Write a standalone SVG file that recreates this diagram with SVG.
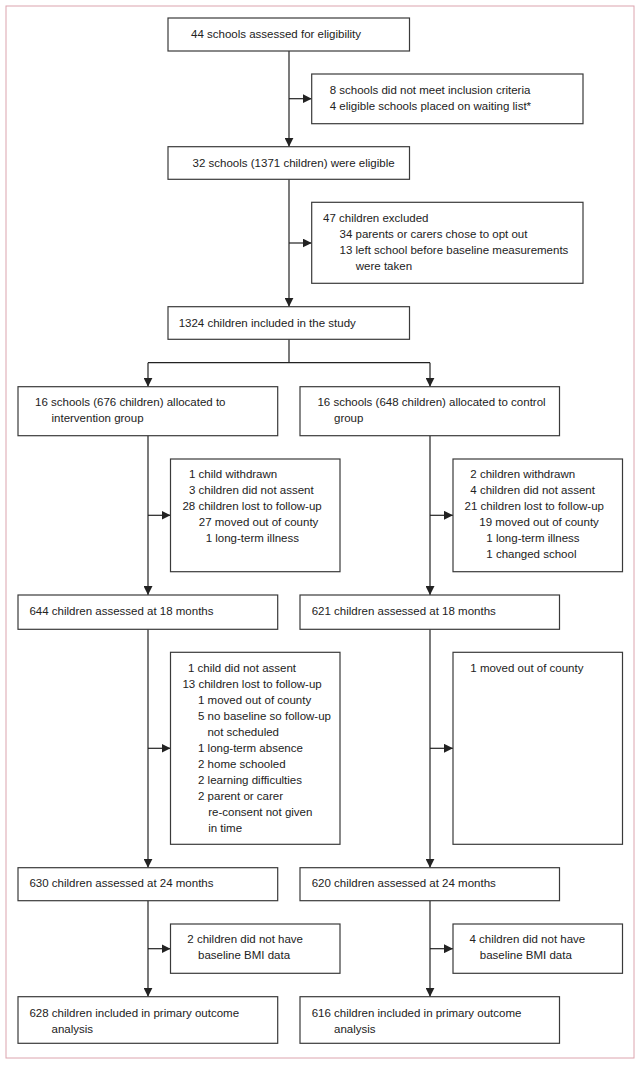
<svg xmlns="http://www.w3.org/2000/svg" width="640" height="1067" viewBox="0 0 640 1067">
<defs>
<marker id="arr" markerUnits="userSpaceOnUse" markerWidth="9" markerHeight="9" refX="9" refY="4.5" orient="auto" viewBox="0 0 9 9">
<path d="M0,0 L9,4.5 L0,9 z" fill="#222"/>
</marker>
</defs>
<style>
.box{fill:#fff;stroke:#3a3a3a;stroke-width:1.2}
.t{font-family:"Liberation Sans",Arial,sans-serif;font-size:11.5px;fill:#222}
.c{fill:none;stroke:#222;stroke-width:1.2}
.a{fill:none;stroke:#222;stroke-width:1.2;marker-end:url(#arr)}
</style>
<rect x="0" y="0" width="640" height="1067" fill="#fff"/>
<rect x="6" y="6" width="628" height="1052" fill="none" stroke="#dca4ae" stroke-width="1"/>

<g id="connectors">
<path class="a" d="M289,51 V146.7"/>
<path class="a" d="M289,98.7 H311.7"/>
<path class="a" d="M289,179.3 V306.7"/>
<path class="a" d="M289,243 H311.7"/>
<path class="c" d="M289,339.3 V362.7 M148,362.7 H430"/>
<path class="a" d="M148,362.7 V386.7"/>
<path class="a" d="M430,362.7 V386.7"/>
<path class="a" d="M148,435.7 V595"/>
<path class="a" d="M148,515.3 H170.5"/>
<path class="a" d="M430,435.7 V595"/>
<path class="a" d="M430,515.3 H453"/>
<path class="a" d="M148,629.3 V867.7"/>
<path class="a" d="M148,748.3 H170.5"/>
<path class="a" d="M430,629.3 V867.7"/>
<path class="a" d="M430,748.3 H453"/>
<path class="a" d="M148,900.7 V996.7"/>
<path class="a" d="M148,948.7 H170.5"/>
<path class="a" d="M430,900.7 V996.7"/>
<path class="a" d="M430,948.7 H453"/>
</g>

<g id="assessed">
<rect class="box" x="168" y="18" width="241.5" height="33"/>
<text class="t" x="191" y="38">44 schools assessed for eligibility</text>
</g>
<g id="excl1">
<rect class="box" x="311.7" y="74" width="271.3" height="49.7"/>
<text class="t" x="329.7" y="93.5">8 schools did not meet inclusion criteria</text>
<text class="t" x="329.7" y="109.5">4 eligible schools placed on waiting list*</text>
</g>
<g id="eligible">
<rect class="box" x="168" y="146.7" width="241.5" height="32.6"/>
<text class="t" x="192.6" y="166.5">32 schools (1371 children) were eligible</text>
</g>
<g id="excl2">
<rect class="box" x="311.7" y="202.3" width="271.3" height="81"/>
<text class="t" x="323" y="222">47 children excluded</text>
<text class="t" x="339.5" y="238">34 parents or carers chose to opt out</text>
<text class="t" x="339.5" y="254">13 left school before baseline measurements</text>
<text class="t" x="355.8" y="270">were taken</text>
</g>
<g id="included">
<rect class="box" x="168" y="306.7" width="241.5" height="32.6"/>
<text class="t" x="178.7" y="326.5">1324 children included in the study</text>
</g>
<g id="intervention">
<rect class="box" x="18" y="386.7" width="259.7" height="49"/>
<text class="t" x="35" y="406">16 schools (676 children) allocated to</text>
<text class="t" x="51.5" y="422">intervention group</text>
</g>
<g id="control">
<rect class="box" x="300" y="386.7" width="259.5" height="49"/>
<text class="t" x="317.4" y="406">16 schools (648 children) allocated to control</text>
<text class="t" x="334" y="422">group</text>
</g>
<g id="lossI1">
<rect class="box" x="170.5" y="459" width="169.5" height="112.7"/>
<text class="t" x="189" y="478.3">1 child withdrawn</text>
<text class="t" x="189" y="494.3">3 children did not assent</text>
<text class="t" x="182.4" y="510.3">28 children lost to follow-up</text>
<text class="t" x="198.8" y="526.3">27 moved out of county</text>
<text class="t" x="205.7" y="542.3">1 long-term illness</text>
</g>
<g id="lossC1">
<rect class="box" x="453" y="459" width="169.5" height="112.7"/>
<text class="t" x="470.3" y="478.3">2 children withdrawn</text>
<text class="t" x="470.3" y="494.3">4 children did not assent</text>
<text class="t" x="464.6" y="510.3">21 children lost to follow-up</text>
<text class="t" x="479.3" y="526.3">19 moved out of county</text>
<text class="t" x="486.3" y="542.3">1 long-term illness</text>
<text class="t" x="486.3" y="558.3">1 changed school</text>
</g>
<g id="i18">
<rect class="box" x="18" y="595" width="259.7" height="34.3"/>
<text class="t" x="29.4" y="614.5">644 children assessed at 18 months</text>
</g>
<g id="c18">
<rect class="box" x="300" y="595" width="259.5" height="34.3"/>
<text class="t" x="311.7" y="614.5">621 children assessed at 18 months</text>
</g>
<g id="lossI2">
<rect class="box" x="170.5" y="652.3" width="169.5" height="192"/>
<text class="t" x="188" y="671.7">1 child did not assent</text>
<text class="t" x="182.4" y="687.7">13 children lost to follow-up</text>
<text class="t" x="198" y="703.7">1 moved out of county</text>
<text class="t" x="198" y="719.7">5 no baseline so follow-up</text>
<text class="t" x="207.4" y="735.7">not scheduled</text>
<text class="t" x="198" y="751.7">1 long-term absence</text>
<text class="t" x="198" y="767.7">2 home schooled</text>
<text class="t" x="198" y="783.7">2 learning difficulties</text>
<text class="t" x="198" y="799.7">2 parent or carer</text>
<text class="t" x="208.2" y="815.7">re-consent not given</text>
<text class="t" x="208.2" y="831.7">in time</text>
</g>
<g id="lossC2">
<rect class="box" x="453" y="652.3" width="169.5" height="192"/>
<text class="t" x="470.3" y="671.7">1 moved out of county</text>
</g>
<g id="i24">
<rect class="box" x="18" y="867.7" width="259.7" height="33"/>
<text class="t" x="29.4" y="887">630 children assessed at 24 months</text>
</g>
<g id="c24">
<rect class="box" x="300" y="867.7" width="259.5" height="33"/>
<text class="t" x="311.7" y="887">620 children assessed at 24 months</text>
</g>
<g id="bmiI">
<rect class="box" x="170.5" y="924" width="169.5" height="49.3"/>
<text class="t" x="187.3" y="943.3">2 children did not have</text>
<text class="t" x="198" y="959.3">baseline BMI data</text>
</g>
<g id="bmiC">
<rect class="box" x="453" y="924" width="169.5" height="49.3"/>
<text class="t" x="469.5" y="943.3">4 children did not have</text>
<text class="t" x="479.8" y="959.3">baseline BMI data</text>
</g>
<g id="primaryI">
<rect class="box" x="18" y="996.7" width="259.7" height="46.6"/>
<text class="t" x="29.4" y="1016.7">628 children included in primary outcome</text>
<text class="t" x="51.5" y="1032.7">analysis</text>
</g>
<g id="primaryC">
<rect class="box" x="300" y="996.7" width="259.5" height="46.6"/>
<text class="t" x="311.7" y="1016.7">616 children included in primary outcome</text>
<text class="t" x="334" y="1032.7">analysis</text>
</g>
</svg>
